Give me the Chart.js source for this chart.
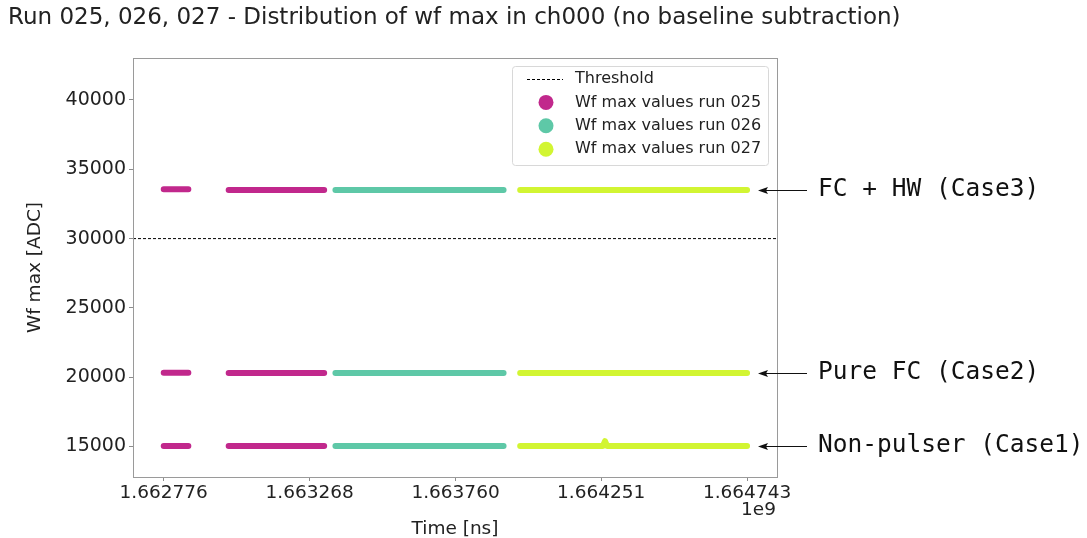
<!DOCTYPE html>
<html>
<head>
<meta charset="utf-8">
<script src="https://cdn.jsdelivr.net/npm/chart.js@4/dist/chart.umd.min.js"></script>
<style>
  html, body { margin: 0; padding: 0; background: #fff; }
  #wrap { width: 1087px; height: 538px; }
</style>
</head>
<body>
<div id="wrap"><canvas id="wfChart"></canvas></div>
<script>
const titleText = 'Run 025, 026, 027 - Distribution of wf max in ch000 (no baseline subtraction)';

const runLabels = ['Wf max values run 025', 'Wf max values run 026', 'Wf max values run 027'];
const runColors = ['#c1288c', '#5ec8a7', '#d2f532'];

// time [ns] / wf max [ADC], null = gap between bands
const run025Time = [
    1.662776e9, 1.662859e9, null, 1.662995e9, 1.663317e9, null,
    1.662776e9, 1.662859e9, null, 1.662995e9, 1.663317e9, null,
    1.662776e9, 1.662859e9, null, 1.662995e9, 1.663317e9
];
const run025WfMax = [
    33560, 33560, null, 33510, 33510, null,
    20330, 20330, null, 20310, 20310, null,
    15040, 15040, null, 15040, 15040
];
const run026Time = [
    1.663355e9, 1.663922e9, null,
    1.663355e9, 1.663922e9, null,
    1.663355e9, 1.663922e9
];
const run026WfMax = [
    33510, 33510, null,
    20300, 20300, null,
    15040, 15040
];
const run027Time = [
    1.663978e9, 1.664743e9, null,
    1.663978e9, 1.664743e9, null,
    1.663978e9, 1.664257e9, 1.664264e9, 1.664271e9, 1.664743e9
];
const run027WfMax = [
    33510, 33510, null,
    20300, 20300, null,
    15040, 15040, 15380, 15040, 15040
];

const thresholdValue = 30000;
const xTickLabels = [1.662776, 1.663268, 1.663760, 1.664251, 1.664743]; // x 1e9
const yTickValues = [15000, 20000, 25000, 30000, 35000, 40000];
const xMin = 1.6626724e9, xMax = 1.664844e9;
const yMin = 12800, yMax = 43030;

const caseLabels = ['FC + HW (Case3)', 'Pure FC (Case2)', 'Non-pulser (Case1)'];
const caseLevels = [33520, 20310, 15040];

const toPoints = (xs, ys) => xs.map((x, i) => ({ x: x, y: ys[i] }));

const runSets = [
    toPoints(run025Time, run025WfMax),
    toPoints(run026Time, run026WfMax),
    toPoints(run027Time, run027WfMax)
].map((pts, i) => ({
    label: runLabels[i],
    data: pts,
    showLine: true,
    borderColor: runColors[i],
    backgroundColor: runColors[i],
    borderWidth: 6,
    borderCapStyle: 'round',
    borderJoinStyle: 'round',
    pointRadius: 0,
    spanGaps: false
}));

const thresholdSet = {
    label: 'Threshold',
    data: [{ x: xMin, y: thresholdValue }, { x: xMax, y: thresholdValue }],
    showLine: true,
    borderColor: '#000',
    borderWidth: 1,
    borderDash: [3, 2],
    pointRadius: 0
};

const extras = {
    id: 'extras',
    afterDraw(chart) {
        const { ctx, chartArea: a, scales: { y } } = chart;
        ctx.save();

        // frame
        ctx.strokeStyle = '#9a9a9a';
        ctx.lineWidth = 1;
        ctx.strokeRect(a.left + 0.5, a.top + 0.5, a.width, a.height);

        // title
        ctx.fillStyle = '#222';
        ctx.font = '23px "DejaVu Sans"';
        ctx.textBaseline = 'middle';
        ctx.textAlign = 'left';
        ctx.fillText(titleText, 8, 18);

        // offset text
        ctx.font = '18.5px "DejaVu Sans"';
        ctx.textAlign = 'right';
        ctx.fillText('1e9', a.right - 1, 510);

        // case annotations
        ctx.fillStyle = '#111';
        ctx.strokeStyle = '#111';
        ctx.font = '24.5px "DejaVu Sans Mono"';
        ctx.textAlign = 'left';
        caseLevels.forEach((lv, i) => {
            const py = Math.round(y.getPixelForValue(lv)) + 0.5;
            ctx.lineWidth = 1;
            ctx.beginPath();
            ctx.moveTo(a.right + 30, py);
            ctx.lineTo(a.right - 16, py);
            ctx.stroke();
            ctx.beginPath();
            ctx.moveTo(a.right - 19, py);
            ctx.lineTo(a.right - 9, py - 3.5);
            ctx.lineTo(a.right - 11, py);
            ctx.lineTo(a.right - 9, py + 3.5);
            ctx.closePath();
            ctx.fill();
            ctx.fillText(caseLabels[i], a.right + 41, py - 1);
        });

        // legend
        const lx = a.right - 265, ly = a.top + 8, lw = 256, lh = 99;
        ctx.fillStyle = 'rgba(255,255,255,0.85)';
        ctx.strokeStyle = '#d8d8d8';
        ctx.lineWidth = 1;
        ctx.beginPath();
        ctx.roundRect(lx + 0.5, ly + 0.5, lw, lh, 3);
        ctx.fill();
        ctx.stroke();

        ctx.font = '16px "DejaVu Sans"';
        ctx.textBaseline = 'middle';
        const rowY = (k) => ly + 13 + k * 23.4;
        ctx.strokeStyle = '#000';
        ctx.setLineDash([3, 2]);
        ctx.beginPath();
        ctx.moveTo(lx + 15, rowY(0) + 0.5);
        ctx.lineTo(lx + 51, rowY(0) + 0.5);
        ctx.stroke();
        ctx.setLineDash([]);
        ctx.fillStyle = '#222';
        ctx.fillText('Threshold', lx + 63, rowY(0));
        runLabels.forEach((lab, i) => {
            ctx.fillStyle = runColors[i];
            ctx.beginPath();
            ctx.arc(lx + 34, rowY(i + 1), 7.5, 0, Math.PI * 2);
            ctx.fill();
            ctx.fillStyle = '#222';
            ctx.fillText(lab, lx + 63, rowY(i + 1));
        });

        ctx.restore();
    }
};

const tickFont = { family: 'DejaVu Sans', size: 18.5 };

new Chart(document.getElementById('wfChart'), {
    type: 'scatter',
    data: { datasets: [thresholdSet, ...runSets] },
    options: {
        responsive: true,
        maintainAspectRatio: false,
        animation: false,
        devicePixelRatio: 1,
        layout: { padding: { left: 24, right: 310, top: 58, bottom: 0 } },
        plugins: {
            legend: { display: false },
            tooltip: { enabled: false }
        },
        scales: {
            x: {
                type: 'linear',
                min: xMin,
                max: xMax,
                afterBuildTicks: (s) => { s.ticks = xTickLabels.map(v => ({ value: v * 1e9 })); },
                afterFit: (s) => { s.height = 61; },
                ticks: {
                    autoSkip: false,
                    maxRotation: 0,
                    padding: 1,
                    color: '#222',
                    font: tickFont,
                    callback: (v) => (v / 1e9).toFixed(6)
                },
                grid: { drawOnChartArea: false, drawTicks: true, tickLength: 4, color: '#8c8c8c' },
                border: { display: true, color: '#9a9a9a' },
                title: { display: true, text: 'Time [ns]', color: '#222', font: tickFont, padding: { top: 0, bottom: -2 } }
            },
            y: {
                min: yMin,
                max: yMax,
                afterBuildTicks: (s) => { s.ticks = yTickValues.map(v => ({ value: v })); },
                afterFit: (s) => { s.width = 133 - 24; },
                ticks: {
                    padding: 3,
                    color: '#222',
                    font: { family: 'DejaVu Sans', size: 19 },
                    callback: (v) => String(v)
                },
                grid: { drawOnChartArea: false, drawTicks: true, tickLength: 4, color: '#8c8c8c' },
                border: { display: true, color: '#9a9a9a' },
                title: { display: true, text: 'Wf max [ADC]', color: '#222', font: tickFont, padding: 0 }
            }
        }
    },
    plugins: [extras]
});
</script>
</body>
</html>
